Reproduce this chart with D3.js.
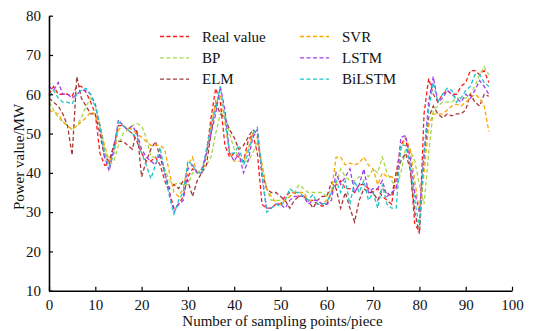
<!DOCTYPE html>
<html><head><meta charset="utf-8">
<script src="https://cdn.jsdelivr.net/npm/d3@7"></script>
<style>body{margin:0;background:#fff}svg{display:block}text{font-family:"Liberation Serif","Times New Roman",serif}</style>
</head><body><svg id="c" width="552" height="331"></svg>
<script>
const seriesNames = ["Real value","BP","ELM","SVR","LSTM","BiLSTM"];
const seriesColors = ["#ff1a1a","#a9d64a","#a83838","#ffa500","#a23ef0","#22c4c8"];
const xTicks = [0,10,20,30,40,50,60,70,80,90,100];
const yTicks = [10,20,30,40,50,60,70,80];

const realValue = [60,62,60,60,60,59.5,62,62,60.5,58,55,45,42,42,47,52,52,51,50,48,45,43,43,44,42,38,35,31,32,34,39,41,40,41,45,54,61.5,58,47,44,45,44,43,48,50,45,32,31,31,32,32,34,35,35,34,34,33,33,32,31.5,32,35,37,38,36,36,35,37,37,36,35,36,34,33,32,40,47,49,42,27,25,55,64,60,58,60,61,60,60,62,63,66,66,65,66,63];
const bp = [58,56,54,53,52,51,52,54,57,59,57,52,46,42,43,47,50,51,52,52.5,52,49,44,44,44,41,38,37,37.5,37,37,40,40,41,42,44,50,55,55,50,46,44,43,43,45,48,42,36,33,33,33,33,34,35,37,36,35,35,35,35,34,36,37,41,39,38,38,39,40,39,41,40,44,40,38,36,40,46,46,43,37,32,45,56,57,58,58,58,59,59,59,60,62,65,67,65];
const elm = [59,58,57,55,52,44.5,64.5,59,57,55,55,50,44,43,47,48,48,47,46,51,39,43,46,48,44,40,36,37,36,38,38,34,38,40,42,50,58,55,54,51,49,46,47,49,51,50,40,36,35,35,34,33,31,33,34,34,33,31,33,34,34,37.5,36,31,35,31,27.5,33,36,35,35,33,36,35,34,40,43,45,41,30,24.5,44,54,57,55,54,55,54.5,55,55,56,60,58,57,60,59.5];
const svr = [56,55.5,55,53,52,51,52,53,54,55.5,55,52,47,43,45,51,52,51.5,51,50,49,48,47,47,47,46,40,35,34,36,42,44,40,40,44,52,58,60,53,45,43,43,43,46,50,49,42,36,34,32.5,32,33,34,35,35,35,33,33,33,32,33,35,44,44,42,42.5,42,42.5,44,42,41,37,40,39,39,38,46,49,46,38,30,40,52,55,55,55,56,57,57.5,57,58,59,60,59,57,50.5];
const lstm = [62,61,63,60,60,59,60,61,61,60,57.5,52,44,40.5,46,53.5,52,51,52,50,46,44,43,42,45,40,35,30,32,33,41,42,40,40,45,50,55,62,56,45,43,45,40,43,49,51,39,31,31,32,32,31,33,34,34,34,32,33,33,32,32,33,40,37,39,41,35,37,41,35,36,36,38,34,35,36,49,49.5,44,35,30,45,58,64.5,58,59,61,60,59,58,60,59,61,63.5,62,60];
const bilstm = [59.5,61,59,58,58,57.5,60,61,61.5,60,57,52,45,41.5,45,53,52,51,50,49,45,42,38.5,42,46.5,40,34,29.5,33,35,43,42,40,40,46,52,56,62,54,45,45,47,42,45,50,51.5,40,30,31,32,31.5,33,36,35,35,34,33,34.5,32,32,32.5,35,38,35,38,32,38,35,38,33,35,31,37,32,31,31,47,47,42,33,26,45,56,63,58,60,61.5,61,58,59,61,62,65,65,63,62];
const allSeries = [realValue,bp,elm,svr,lstm,bilstm];

const svg = d3.select("#c");
const L=49, R=512, T=15.7, B=290.7;
const x = d3.scaleLinear().domain([0,100]).range([L,R]);
const y = d3.scaleLinear().domain([10,80]).range([B,T]);

const line = d3.line().x((d,i)=>x(i)).y(d=>y(d));
allSeries.forEach((s,k)=>{
  svg.append("path").datum(s).attr("d",line).attr("fill","none")
    .attr("stroke",seriesColors[k]).attr("stroke-width",1.3)
    .attr("stroke-dasharray","4,2.5");
});

const xa = svg.append("g").attr("transform",`translate(0,${B})`)
  .call(d3.axisBottom(x).tickValues(xTicks).tickSizeInner(-4).tickSizeOuter(0).tickPadding(9));
const ya = svg.append("g").attr("transform",`translate(${L},0)`)
  .call(d3.axisLeft(y).tickValues(yTicks).tickSizeInner(-4).tickSizeOuter(0).tickPadding(8));
[xa,ya].forEach(a=>{
  a.select(".domain").attr("stroke","#000").attr("stroke-width",1.6);
  a.selectAll(".tick line").attr("stroke","#000").attr("stroke-width",1.2);
  a.selectAll("text").attr("font-size",15).attr("fill","#111").style("font-family","Liberation Serif");
});

svg.append("text").attr("x",(L+R)/2+2).attr("y",326).attr("text-anchor","middle")
  .attr("font-size",15).attr("fill","#111").text("Number of sampling points/piece");
svg.append("text").attr("transform",`translate(24,157) rotate(-90)`).attr("text-anchor","middle")
  .attr("font-size",15).attr("fill","#111").text("Power value/MW");

const lg = svg.append("g");
seriesNames.forEach((n,k)=>{
  const col = Math.floor(k/3), row = k%3;
  const lx = col===0?160:300, ly = 36.5 + row*21.3;
  lg.append("line").attr("x1",lx).attr("x2",lx+29).attr("y1",ly).attr("y2",ly)
    .attr("stroke",seriesColors[k]).attr("stroke-width",1.3).attr("stroke-dasharray","4,2.5");
  lg.append("text").attr("x",lx+42).attr("y",ly+5).attr("font-size",15).attr("fill","#111").text(n);
});
</script></body></html>
